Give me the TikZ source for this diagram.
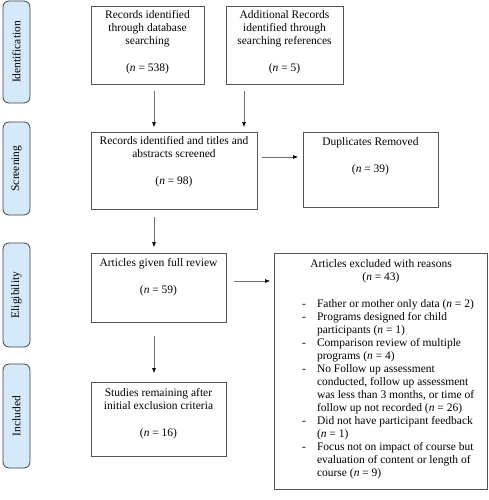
\documentclass[tikz,border=0pt]{standalone}
\usepackage{fontspec}
\setmainfont{Liberation Serif}
\usetikzlibrary{arrows.meta}
\definecolor{sidefill}{HTML}{D6E9FA}
\definecolor{boxline}{HTML}{555555}
\definecolor{arrline}{HTML}{707070}
\begin{document}
\begin{tikzpicture}[x=1pt,y=-1pt,
  every node/.style={font=\fontsize{11.5}{13}\selectfont},
  side/.style={draw=black!75,fill=sidefill,rounded corners=6pt,line width=0.8pt},
  sidetext/.style={rotate=90,anchor=center},
  box/.style={draw=boxline,line width=0.8pt},
  txt/.style={align=center,anchor=north,inner sep=0pt},
  flow/.style={draw=arrline,line width=0.6pt,-{Latex[length=5pt,width=4pt,color=black]}}]
\useasboundingbox (0,0) rectangle (488,500);
% side labels
\draw[side] (3,1) rectangle (30,103);
\node[sidetext] (sid) at (16.5,52) {Identification};
\draw[side] (3,122) rectangle (30,215);
\node[sidetext] (sscr) at (16.5,168.5) {Screening};
\draw[side] (3,243) rectangle (30,347);
\node[sidetext] (selig) at (16.5,295) {Eligibility};
\draw[side] (3,364) rectangle (30,468);
\node[sidetext] (sinc) at (16.5,416) {Included};
% boxes
\draw[box] (91,6) rectangle (204,84);
\node[txt] (b1) at (147.5,10) {Records identified\\through database\\searching\\[14.5pt](\textit{n} = 538)};
\draw[box] (226,6) rectangle (343,84);
\node[txt] (b2) at (284.5,10) {Additional Records\\identified through\\searching references\\[14.5pt](\textit{n} = 5)};
\draw[box] (91,132) rectangle (257,209);
\node[txt] (b3) at (174,136) {Records identified and titles and\\abstracts screened\\[14.5pt](\textit{n} = 98)};
\draw[box] (303,132) rectangle (438,207);
\node[txt] (b4) at (370.5,137) {Duplicates Removed\\[14pt](\textit{n} = 39)};
\draw[box] (91,253) rectangle (226,322);
\node[txt] (b5) at (158.5,258) {Articles given full review\\[14.5pt](\textit{n} = 59)};
\draw[box] (91,382) rectangle (226,456);
\node[txt] (b6) at (158.5,388) {Studies remaining after\\initial exclusion criteria\\[14pt](\textit{n} = 16)};
\draw[box] (274,253) rectangle (487,489);
\node[txt] (b7) at (381,259) {Articles excluded with reasons\\(\textit{n} = 43)};
\node[anchor=north west,inner sep=0pt,align=left] (b7l) at (302,298) {%
\begin{tabular}{@{}c@{\hspace{11pt}}l@{}}
- & Father or mother only data (\textit{n} = 2)\\
- & Programs designed for child\\
  & participants (\textit{n} = 1)\\
- & Comparison review of multiple\\
  & programs (\textit{n} = 4)\\
- & No Follow up assessment\\
  & conducted, follow up assessment\\
  & was less than 3 months, or time of\\
  & follow up not recorded (\textit{n} = 26)\\
- & Did not have participant feedback\\
  & (\textit{n} = 1)\\
- & Focus not on impact of course but\\
  & evaluation of content or length of\\
  & course (\textit{n} = 9)
\end{tabular}};
% arrows
\coordinate (a1s) at (154,91); \coordinate (a1e) at (154,127);
\coordinate (a2s) at (244,91); \coordinate (a2e) at (244,127);
\coordinate (a3s) at (262,157); \coordinate (a3e) at (298,157);
\coordinate (a4s) at (154,217); \coordinate (a4e) at (154,247);
\coordinate (a5s) at (234,281); \coordinate (a5e) at (270,281);
\coordinate (a6s) at (154,336); \coordinate (a6e) at (154,373);
\draw[flow] (a1s) -- (a1e);
\draw[flow] (a2s) -- (a2e);
\draw[flow] (a3s) -- (a3e);
\draw[flow] (a4s) -- (a4e);
\draw[flow] (a5s) -- (a5e);
\draw[flow] (a6s) -- (a6e);
\end{tikzpicture}
\end{document}
